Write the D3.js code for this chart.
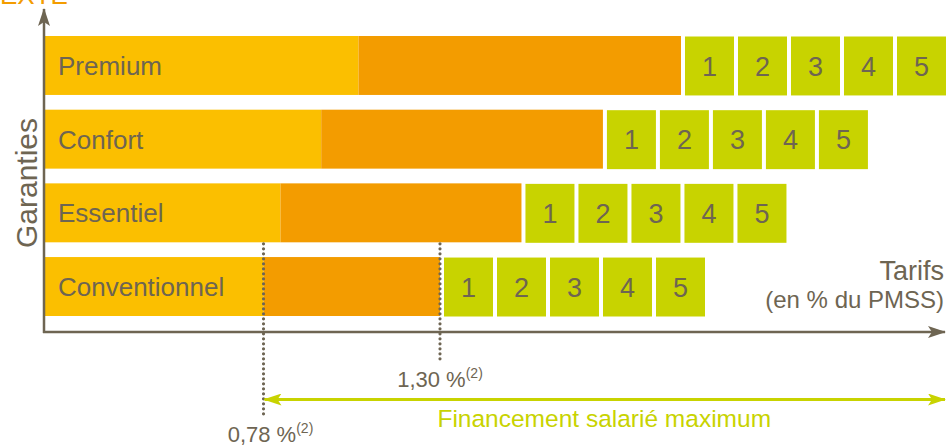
<!DOCTYPE html>
<html>
<head>
<meta charset="utf-8">
<script src="https://cdn.jsdelivr.net/npm/d3@7"></script>
<style>
  body { margin: 0; background: #fff; }
  svg { display: block; font-family: Arial, "Liberation Sans", sans-serif; }
</style>
</head>
<body>
<div class="chart"></div>
<script>
var w = 946;
var h = 446;

// garanties, du haut vers le bas
var garanties = ["Premium", "Confort", "Essentiel", "Conventionnel"];
// tarif fin de la part jaune / fin de la part orange (en % du PMSS)
var partJaune = [1.06, 0.95, 0.83, 0.78];
var partOrange = [2.01, 1.78, 1.54, 1.30];
var options = ["1", "2", "3", "4", "5"];
var reperes = [0.78, 1.30];

var jaune = "#fbbf00";
var orange = "#f39c00";
var vert = "#c8d300";
var gris = "#6e6552";

var left = 44;
var axisY = 332;

var x = d3.scaleLinear()
          .domain([0.78, 1.30])
          .range([263.5, 440]);

var y = d3.scaleBand()
          .domain(garanties)
          .range([36, 316])
          .paddingInner(0.2);

var boxW = 49;
var boxGap = 4;

var svg = d3.select(".chart")
            .append("svg")
            .attr("width", w)
            .attr("height", h);

var defs = svg.append("defs");
function arrowHead(id, color) {
    defs.append("marker")
        .attr("id", id)
        .attr("viewBox", "0 0 18 12")
        .attr("refX", 17)
        .attr("refY", 6)
        .attr("markerUnits", "userSpaceOnUse")
        .attr("markerWidth", 18)
        .attr("markerHeight", 12)
        .attr("orient", "auto-start-reverse")
        .append("path")
        .attr("d", "M0,0 L18,6 L0,12 L4,6 Z")
        .attr("fill", color);
}
arrowHead("flecheGris", gris);
arrowHead("flecheVert", vert);

var data = garanties.map(function(g, i) {
    return {name: g, jaune: partJaune[i], orange: partOrange[i]};
});

// texte orange coupé en haut
svg.append("text")
   .attr("x", 0)
   .attr("y", 4)
   .attr("fill", orange)
   .attr("font-size", 26)
   .text("EXTE");

var rows = svg.selectAll("g.row")
              .data(data)
              .enter()
              .append("g")
              .attr("class", "row")
              .attr("transform", function(d) { return "translate(0," + y(d.name) + ")"; });

rows.append("rect")
    .attr("x", left + 1)
    .attr("y", 0)
    .attr("width", function(d) { return x(d.jaune) - left - 1; })
    .attr("height", y.bandwidth())
    .attr("fill", jaune);

rows.append("rect")
    .attr("x", function(d) { return x(d.jaune); })
    .attr("y", 0)
    .attr("width", function(d) { return x(d.orange) - x(d.jaune); })
    .attr("height", y.bandwidth())
    .attr("fill", orange);

rows.append("text")
    .attr("x", 58)
    .attr("y", y.bandwidth() / 2)
    .attr("dy", "0.36em")
    .attr("font-size", 26)
    .attr("fill", gris)
    .text(function(d) { return d.name; });

var boxes = rows.selectAll("g.box")
                .data(function(d) {
                    return options.map(function(o, j) { return {opt: o, x0: x(d.orange) + boxGap + j * (boxW + boxGap)}; });
                })
                .enter()
                .append("g")
                .attr("class", "box");

boxes.append("rect")
     .attr("x", function(d) { return d.x0; })
     .attr("y", 0.5)
     .attr("width", boxW)
     .attr("height", y.bandwidth())
     .attr("fill", vert);

boxes.append("text")
     .attr("x", function(d) { return d.x0 + boxW / 2; })
     .attr("y", y.bandwidth() / 2 + 0.5)
     .attr("dy", "0.36em")
     .attr("text-anchor", "middle")
     .attr("font-size", 27)
     .attr("fill", gris)
     .text(function(d) { return d.opt; });

// axes
svg.append("line")
   .attr("x1", left).attr("y1", axisY + 1)
   .attr("x2", left).attr("y2", 9)
   .attr("stroke", gris)
   .attr("stroke-width", 2.5)
   .attr("marker-end", "url(#flecheGris)");

svg.append("line")
   .attr("x1", left - 1).attr("y1", axisY)
   .attr("x2", 945).attr("y2", axisY)
   .attr("stroke", gris)
   .attr("stroke-width", 2.5)
   .attr("marker-end", "url(#flecheGris)");

svg.append("text")
   .attr("transform", "translate(37," + 183 + ") rotate(-90)")
   .attr("text-anchor", "middle")
   .attr("font-size", 30)
   .attr("fill", gris)
   .text("Garanties");

svg.append("text")
   .attr("x", 944)
   .attr("y", 280)
   .attr("text-anchor", "end")
   .attr("font-size", 27)
   .attr("fill", gris)
   .text("Tarifs");

svg.append("text")
   .attr("x", 944)
   .attr("y", 308)
   .attr("text-anchor", "end")
   .attr("font-size", 24)
   .attr("fill", gris)
   .text("(en % du PMSS)");

// repères pointillés
var repereBas = [417, 361];
var labelY = [442, 387];
var labelDx = [7, 0];
var essBottom = y("Essentiel") + y.bandwidth();

svg.selectAll("line.repere")
   .data(reperes)
   .enter()
   .append("line")
   .attr("class", "repere")
   .attr("x1", function(d) { return x(d); })
   .attr("x2", function(d) { return x(d); })
   .attr("y1", essBottom + 1.5)
   .attr("y2", function(d, i) { return repereBas[i]; })
   .attr("stroke", gris)
   .attr("stroke-width", 3.2)
   .attr("stroke-linecap", "round")
   .attr("stroke-dasharray", "0,5");

var lab = svg.selectAll("text.repere")
             .data(reperes)
             .enter()
             .append("text")
             .attr("class", "repere")
             .attr("x", function(d, i) { return x(d) + labelDx[i]; })
             .attr("y", function(d, i) { return labelY[i]; })
             .attr("text-anchor", "middle")
             .attr("font-size", 22)
             .attr("fill", gris);

lab.append("tspan")
   .text(function(d) { return d3.format(".2f")(d).replace(".", ",") + " %"; });
lab.append("tspan")
   .attr("dy", -9)
   .attr("font-size", 14)
   .text("(2)");

// financement salarié
svg.append("line")
   .attr("x1", x(0.78) + 1).attr("y1", 399.5)
   .attr("x2", 945).attr("y2", 399.5)
   .attr("stroke", vert)
   .attr("stroke-width", 3)
   .attr("marker-start", "url(#flecheVert)")
   .attr("marker-end", "url(#flecheVert)");

svg.append("text")
   .attr("x", (x(0.78) + 945) / 2)
   .attr("y", 427)
   .attr("text-anchor", "middle")
   .attr("font-size", 24.5)
   .attr("fill", vert)
   .text("Financement salarié maximum");
</script>
</body>
</html>
